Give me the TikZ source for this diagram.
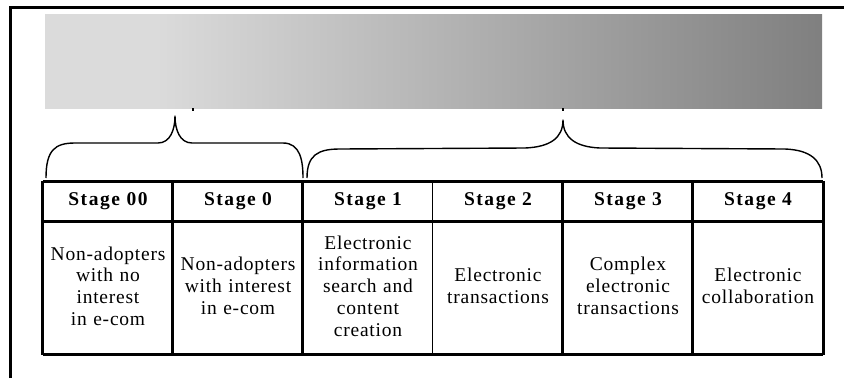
\documentclass[tikz,border=0pt]{standalone}
\usepackage{fontspec}
\setmainfont{Liberation Serif}[LetterSpace=4]
\newfontfamily\headfont{Liberation Serif}[LetterSpace=8]
\usetikzlibrary{positioning}
\definecolor{barlight}{gray}{0.86}
\definecolor{bardark}{gray}{0.5}
\pgfdeclarehorizontalshading{stagebar}{100bp}{color(0bp)=(barlight); color(32bp)=(barlight); color(75bp)=(bardark); color(100bp)=(bardark)}
\tikzset{
  frame/.style = {line width=3pt},
  rule/.style = {line width=2.8pt},
  thinrule/.style = {line width=0.9pt},
  brace/.style = {line width=1.4pt, line join=round},
  headcell/.style = {text width=130pt, minimum height=40pt, inner sep=0pt, align=center,
    font=\headfont\bfseries\fontsize{19.5}{22}\selectfont},
  desccell/.style = {text width=130pt, inner sep=0pt, align=center,
    font=\fontsize{19.5}{21.7}\selectfont}
}

\begin{document}
\begin{tikzpicture}[x=1pt,y=-1pt]
  \useasboundingbox (0,0) rectangle (844,378);
  % frame
  \draw[frame] (10.5,378) -- (10.5,7.5) -- (844,7.5);
  % bar
  \shade[shading=stagebar] (45,14) rectangle (822,108);
  \draw[line width=2pt] (193,108) -- (193,111);
  \draw[line width=2pt] (563,108) -- (563,111);
  % stages
  \foreach \x/\n/\stage/\desc in {
      108/1/00/{Non-adopters\\with no\\interest\\in e-com},
      238/2/0/{Non-adopters\\with interest\\in e-com},
      368/3/1/{Electronic\\information\\search and\\content\\creation},
      498/4/2/{Electronic\\transactions},
      628/5/3/{Complex\\electronic\\transactions},
      758/6/4/{Electronic\\collaboration}} {
    \node[headcell] (head\n) at (\x,201.5) {Stage \stage};
    \node[desccell] (desc\n) at (\x,286) {\desc};
  }
  \coordinate (bottom) at (0,354.5);
  % grid
  \draw[rule] (head1.north west) -- (head6.north east);
  \draw[rule] (head1.south west) -- (head6.south east);
  \draw[rule] (head1.south west |- bottom) -- (head6.south east |- bottom);
  \foreach \n in {1,2,3,5,6}
    \draw[rule] (head\n.north west) -- (head\n.south west |- bottom);
  \draw[rule] (head6.north east) -- (head6.south east |- bottom);
  \draw[thinrule] (head4.north west) -- (head4.south west |- bottom);
  % braces
  \draw[brace] (46,178) .. controls (46,150) and (55,143) .. (75,143) -- (158,143)
    .. controls (170,143) and (175,130) .. (175,116)
    .. controls (175,130) and (180,143) .. (192,143) -- (283,143)
    .. controls (300,143) and (303,160) .. (303,178);
  \draw[brace] (307,178) .. controls (307,155) and (318,149) .. (340,149) -- (525,148)
    .. controls (550,147) and (563,138) .. (563,120)
    .. controls (563,138) and (576,147) .. (600,148) -- (785,149)
    .. controls (810,150) and (822,160) .. (822,178);
\end{tikzpicture}
\end{document}
